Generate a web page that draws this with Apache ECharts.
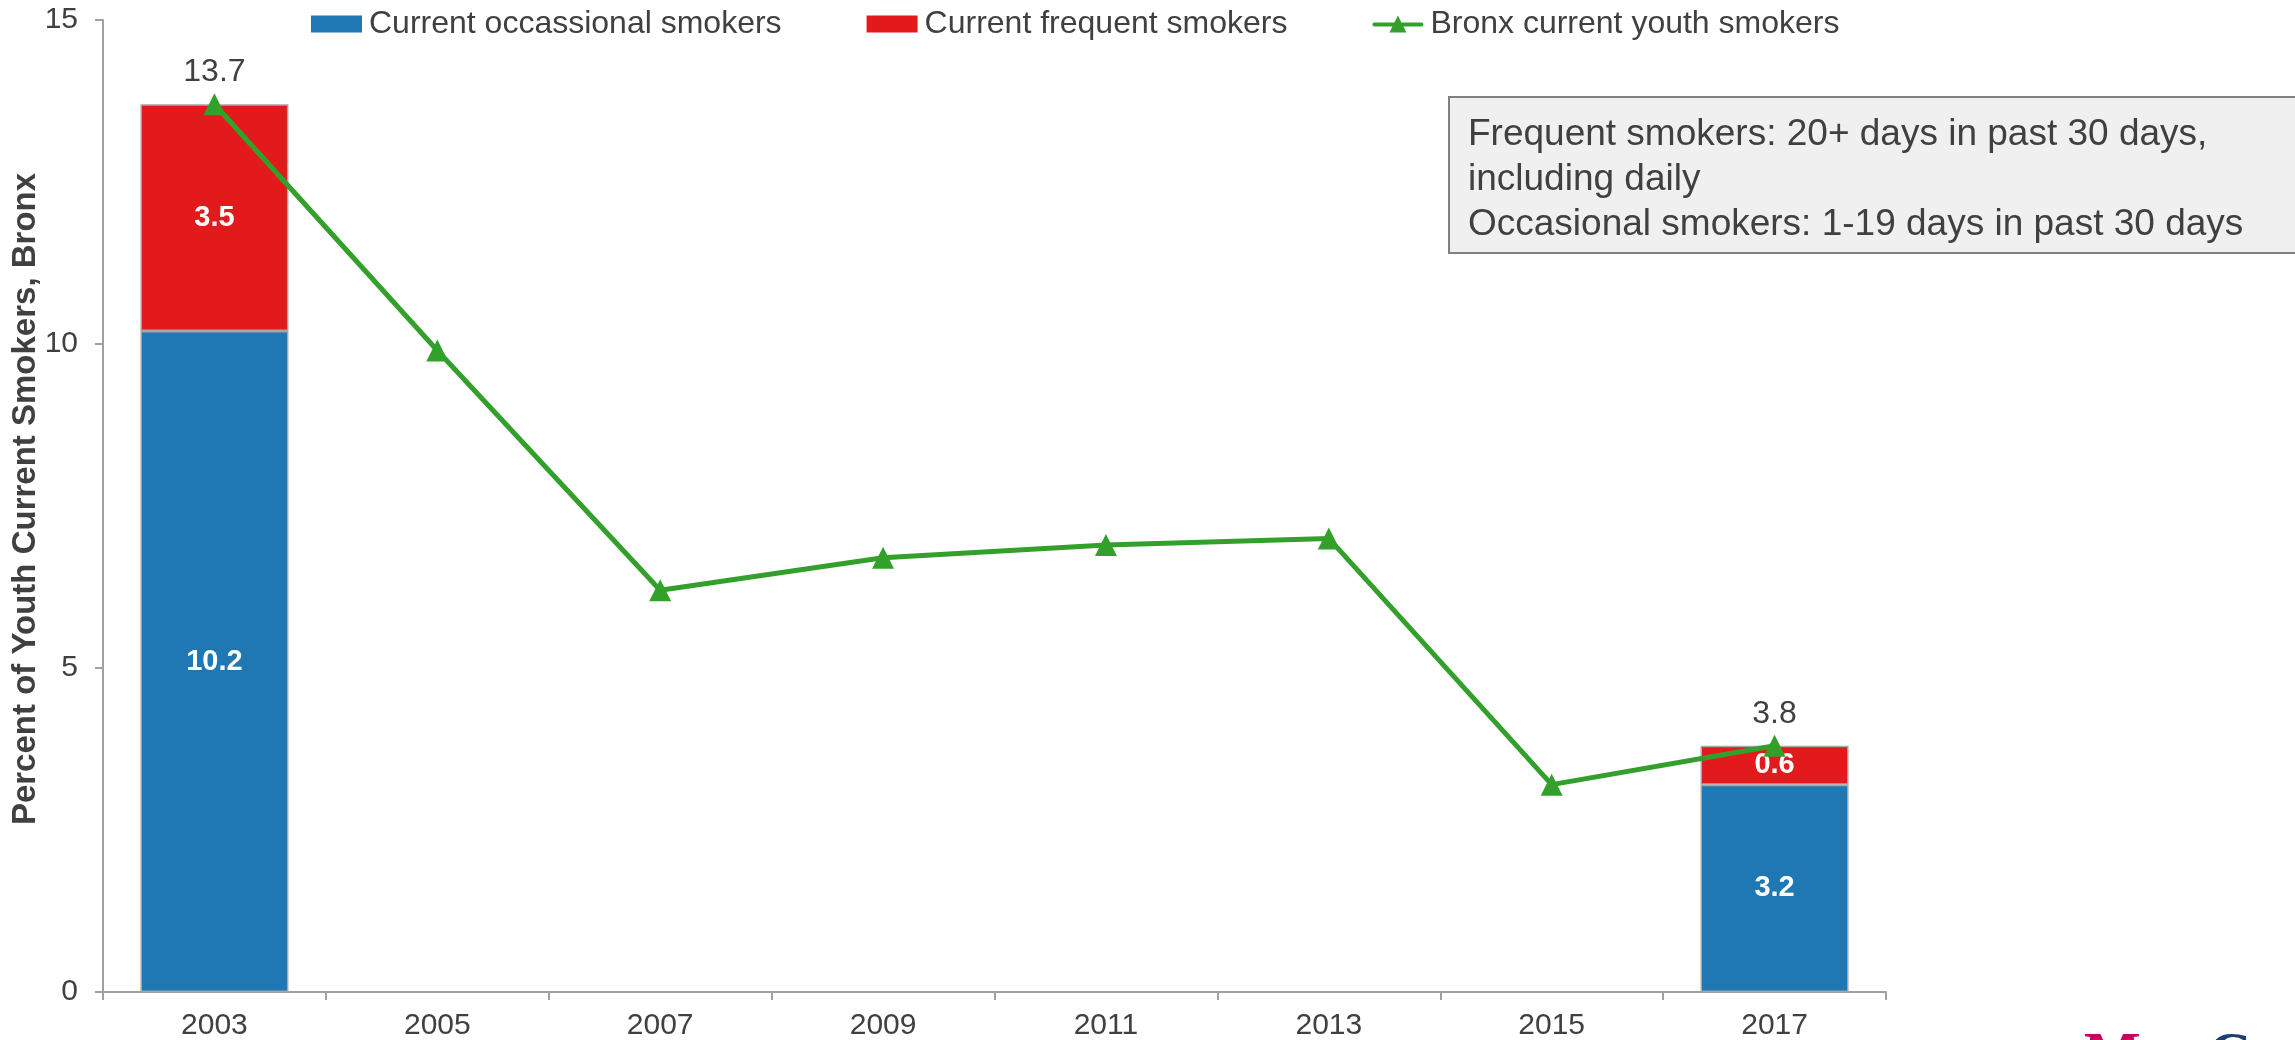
<!DOCTYPE html>
<html>
<head>
<meta charset="utf-8">
<title>Youth Current Smokers, Bronx</title>
<script src="https://cdn.jsdelivr.net/npm/echarts@6/dist/echarts.min.js"></script>
<style>
  html, body { margin: 0; padding: 0; background: #ffffff; }
  #chart { width: 2295px; height: 1040px; }
</style>
</head>
<body>
<div id="chart"></div>
<script>
// Survey years on the category axis
const years = ['2003', '2005', '2007', '2009', '2011', '2013', '2015', '2017'];

// Stacked breakdown, only available for the first and last survey year
const occasionalSmokers = [10.2, null, null, null, null, null, null, 3.2];
const frequentSmokers = [3.5, null, null, null, null, null, null, 0.6];

// Overall share of current youth smokers, every survey year
const currentSmokers = [13.7, 9.9, 6.2, 6.7, 6.9, 7.0, 3.2, 3.8];

// Years whose overall value is printed above the marker
const labelledYears = ['2003', '2017'];

// Y axis ticks
const yTicks = [0, 5, 10, 15];

const noteLines = [
  'Frequent smokers: 20+ days in past 30 days,',
  'including daily',
  'Occasional smokers: 1-19 days in past 30 days'
];

const FONT = '"Liberation Sans", Arial, Helvetica, sans-serif';
const TEXT = '#404040';
const AXIS = '#a0a0a0';
const GREEN = '#33a02c';

// Legend glyph for the line series: a thick stroke with a triangle marker on it
const LINE_ICON = 'path://M2,7 L49,7 A2,2 0 0 1 49,11 L2,11 A2,2 0 0 1 2,7 Z M25.5,0 L34,17 L17,17 Z';

const chart = echarts.init(document.getElementById('chart'), null, { renderer: 'canvas' });

const barLabel = {
  show: true,
  position: 'inside',
  color: '#ffffff',
  fontFamily: FONT,
  fontWeight: 'bold',
  fontSize: 29,
  formatter: p => (p.value == null ? '' : p.value.toFixed(1))
};

const lineData = currentSmokers.map((v, i) => ({
  value: v,
  label: { show: labelledYears.includes(years[i]) }
}));

chart.setOption({
  animation: false,
  backgroundColor: '#ffffff',
  textStyle: { fontFamily: FONT },
  grid: { left: 103, right: 409, top: 20, bottom: 48, containLabel: false, outerBoundsMode: 'none' },
  legend: {
    left: 311,
    top: 8,
    padding: 0,
    itemWidth: 51,
    itemHeight: 17,
    itemGap: 85,
    textStyle: { color: TEXT, fontSize: 32, fontFamily: FONT, padding: [0, 0, 0, 2] },
    data: [
      { name: 'Current occassional smokers', icon: 'rect', itemStyle: { borderWidth: 0 } },
      { name: 'Current frequent smokers', icon: 'rect', itemStyle: { borderWidth: 0 } },
      { name: 'Bronx current youth smokers', icon: LINE_ICON, itemStyle: { color: GREEN, borderWidth: 0 } }
    ]
  },
  xAxis: {
    type: 'category',
    data: years,
    boundaryGap: true,
    axisLine: { show: true, lineStyle: { color: AXIS, width: 2 } },
    axisTick: { show: true, length: 8, interval: 0, lineStyle: { color: AXIS, width: 2 } },
    axisLabel: { color: TEXT, fontSize: 30, fontFamily: FONT, margin: 19 },
    splitLine: { show: false }
  },
  yAxis: {
    type: 'value',
    min: yTicks[0],
    max: yTicks[yTicks.length - 1],
    interval: yTicks[1] - yTicks[0],
    name: 'Percent of Youth Current Smokers, Bronx',
    nameLocation: 'middle',
    nameGap: 61,
    nameMoveOverlap: false,
    nameTextStyle: { color: TEXT, fontSize: 33, fontWeight: 'bold', fontFamily: FONT, padding: [0, 0, 0, 14] },
    axisLine: { show: true, lineStyle: { color: AXIS, width: 2 } },
    axisTick: { show: true, length: 8, lineStyle: { color: AXIS, width: 2 } },
    axisLabel: { color: TEXT, fontSize: 30, fontFamily: FONT, margin: 25 },
    splitLine: { show: false }
  },
  series: [
    {
      name: 'Current occassional smokers',
      type: 'bar',
      stack: 'smokers',
      barWidth: '66.4%',
      data: occasionalSmokers,
      itemStyle: { color: '#1f77b4', borderColor: '#a6a6a6', borderWidth: 1.5 },
      label: barLabel,
      z: 2
    },
    {
      name: 'Current frequent smokers',
      type: 'bar',
      stack: 'smokers',
      barWidth: '66.4%',
      data: frequentSmokers,
      itemStyle: { color: '#e31a1c', borderColor: '#a6a6a6', borderWidth: 1.5 },
      label: barLabel,
      z: 2
    },
    {
      name: 'Bronx current youth smokers',
      type: 'line',
      data: lineData,
      symbol: 'triangle',
      symbolSize: 22,
      showAllSymbol: true,
      lineStyle: { color: GREEN, width: 5 },
      itemStyle: { color: GREEN },
      label: {
        show: false,
        position: 'top',
        distance: 5,
        color: TEXT,
        fontSize: 32,
        fontFamily: FONT,
        formatter: p => p.value.toFixed(1)
      },
      z: 5
    }
  ],
  graphic: [
    {
      type: 'rect',
      shape: { x: 1449, y: 97, width: 900, height: 156 },
      style: { fill: '#f0f0f0', stroke: '#808080', lineWidth: 2 },
      z: 10
    },
    {
      type: 'text',
      x: 1468,
      y: 112,
      style: {
        text: noteLines.join('\n'),
        fill: TEXT,
        font: '37px ' + FONT,
        lineHeight: 45,
        verticalAlign: 'top'
      },
      z: 11
    },
    {
      type: 'text',
      x: 2084,
      y: 1027,
      style: { text: 'M', fill: '#c8005f', font: 'bold 60px "Liberation Serif", serif', verticalAlign: 'top' },
      z: 11
    },
    {
      type: 'text',
      x: 2208,
      y: 1027,
      style: { text: 'C', fill: '#1c3f6e', font: 'bold 60px "Liberation Serif", serif', verticalAlign: 'top' },
      z: 11
    }
  ]
});
</script>
</body>
</html>
